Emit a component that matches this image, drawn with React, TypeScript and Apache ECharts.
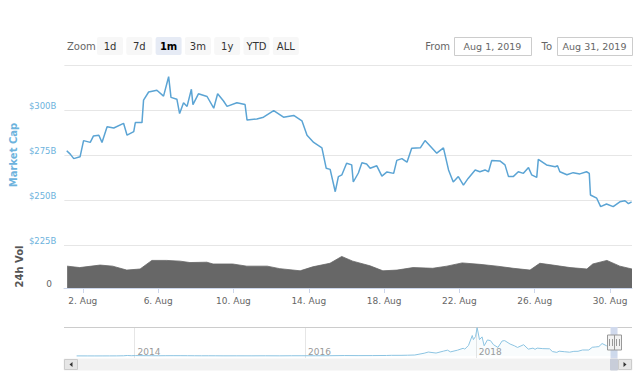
import React, { useEffect, useRef } from 'react';
import * as echarts from 'echarts';

// ---------- data ----------
const capTimes = [
  '2019-08-01 03:00', '2019-08-01 07:30', '2019-08-01 12:00', '2019-08-01 20:00', '2019-08-02 00:30',
  '2019-08-02 09:00', '2019-08-02 13:00', '2019-08-02 20:00', '2019-08-03 00:00', '2019-08-03 06:30',
  '2019-08-03 15:00', '2019-08-04 03:30', '2019-08-04 08:00', '2019-08-04 16:30', '2019-08-04 18:30',
  '2019-08-05 03:00', '2019-08-05 05:00', '2019-08-05 11:30', '2019-08-05 22:00', '2019-08-06 06:30',
  '2019-08-06 13:00', '2019-08-06 16:00', '2019-08-06 23:30', '2019-08-07 03:00', '2019-08-07 08:00',
  '2019-08-07 12:30', '2019-08-07 18:00', '2019-08-07 20:00', '2019-08-08 03:00', '2019-08-08 14:00',
  '2019-08-08 22:30', '2019-08-09 03:30', '2019-08-09 11:00', '2019-08-09 15:30', '2019-08-10 04:00',
  '2019-08-10 14:30', '2019-08-10 17:00', '2019-08-11 05:30', '2019-08-11 14:00', '2019-08-12 03:00',
  '2019-08-12 15:30', '2019-08-13 04:30', '2019-08-13 15:00', '2019-08-13 21:30', '2019-08-14 06:00',
  '2019-08-14 16:30', '2019-08-14 22:00', '2019-08-15 03:00', '2019-08-15 09:30', '2019-08-15 13:30',
  '2019-08-15 18:00', '2019-08-16 00:00', '2019-08-16 06:30', '2019-08-16 08:30', '2019-08-16 15:00',
  '2019-08-16 19:30', '2019-08-17 01:30', '2019-08-17 06:00', '2019-08-17 14:30', '2019-08-17 21:00',
  '2019-08-18 03:30', '2019-08-18 12:00', '2019-08-18 16:00', '2019-08-18 22:30', '2019-08-19 05:00',
  '2019-08-19 11:00', '2019-08-19 22:00', '2019-08-20 04:00', '2019-08-20 10:30', '2019-08-20 19:00',
  '2019-08-21 03:30', '2019-08-21 10:00', '2019-08-21 16:00', '2019-08-21 22:30', '2019-08-22 05:00',
  '2019-08-22 11:00', '2019-08-22 20:00', '2019-08-23 02:00', '2019-08-23 08:30', '2019-08-23 13:00',
  '2019-08-23 17:00', '2019-08-24 03:30', '2019-08-24 10:00', '2019-08-24 14:30', '2019-08-24 20:30',
  '2019-08-25 03:00', '2019-08-25 09:30', '2019-08-25 16:00', '2019-08-25 20:00', '2019-08-26 02:30',
  '2019-08-26 04:30', '2019-08-26 15:00', '2019-08-27 02:00', '2019-08-27 05:00', '2019-08-27 08:00',
  '2019-08-27 17:00', '2019-08-28 01:00', '2019-08-28 09:30', '2019-08-28 18:00', '2019-08-28 21:30',
  '2019-08-28 23:00', '2019-08-29 07:00', '2019-08-29 12:00', '2019-08-29 19:30', '2019-08-30 04:00',
  '2019-08-30 12:30', '2019-08-30 19:00', '2019-08-30 23:30', '2019-08-31 03:30',
];
const capValues = [
  277.4, 275.5, 273, 274, 283,
  282, 285.5, 286, 282, 290.7,
  290, 292.6, 286, 288, 293,
  293, 305.5, 310, 311, 307.7,
  318.5, 307, 306, 298, 304,
  302, 311.5, 303, 309, 307.5,
  301, 309, 305, 302, 304,
  303, 294.4, 295, 296, 299.6,
  296, 297, 294, 286, 282,
  279, 267.6, 267, 254.6, 263,
  264, 270.4, 269.5, 260, 265,
  270.7, 270, 267.6, 269, 263.3,
  265.6, 264.8, 272, 273, 271,
  278.7, 279, 283, 280, 276,
  279, 266.7, 260, 263, 258.3,
  262, 266.7, 265.7, 266.7, 265.7,
  271.9, 271.7, 269.5, 263, 263,
  265.7, 264.8, 268, 264, 262.6,
  272.6, 269.5, 268.5, 269, 265.7,
  264, 265.2, 264.5, 265.7, 264.8,
  252.8, 251, 246.3, 247.8, 246.3,
  249, 249.6, 248, 249,
];

const volTimes = [
  '2019-08-01 04:00', '2019-08-01 20:00', '2019-08-02 22:00', '2019-08-03 14:00', '2019-08-04 08:00',
  '2019-08-05 01:00', '2019-08-05 16:00', '2019-08-06 11:00', '2019-08-07 04:00', '2019-08-07 16:30',
  '2019-08-08 14:00', '2019-08-08 22:00', '2019-08-09 23:00', '2019-08-10 17:00', '2019-08-11 19:00',
  '2019-08-12 11:00', '2019-08-13 13:00', '2019-08-14 05:00', '2019-08-15 03:00', '2019-08-15 18:00',
  '2019-08-16 08:00', '2019-08-17 06:00', '2019-08-17 22:30', '2019-08-18 16:30', '2019-08-19 13:00',
  '2019-08-20 14:00', '2019-08-21 08:00', '2019-08-22 03:30', '2019-08-23 02:00', '2019-08-24 00:00',
  '2019-08-24 20:30', '2019-08-25 18:00', '2019-08-26 06:30', '2019-08-26 23:00', '2019-08-27 21:00',
  '2019-08-28 18:30', '2019-08-29 02:00', '2019-08-29 20:00', '2019-08-30 12:30', '2019-08-31 04:00',
];
const volValues = [
  61, 57, 64, 61, 50,
  53, 77, 77, 75, 71,
  72, 67, 67, 61, 61,
  54, 48, 59, 69, 88,
  75, 62, 48, 50, 57,
  55, 61, 70, 66, 61,
  55, 50, 69, 64, 57,
  53, 67, 77, 61, 53,
];

const navTimes = [
  '2013-04-28', '2013-06-15', '2013-07-15', '2013-08-15', '2013-09-15', '2013-10-15', '2013-11-15', '2013-12-01',
  '2013-12-18', '2014-01-05', '2014-02-15', '2014-03-15', '2014-04-15', '2014-05-15', '2014-06-15', '2014-07-15',
  '2014-08-15', '2014-09-15', '2014-10-15', '2014-11-15', '2014-12-15', '2015-01-15', '2015-03-15', '2015-05-15',
  '2015-07-15', '2015-09-15', '2015-11-05', '2015-12-15', '2016-02-15', '2016-04-15', '2016-06-17', '2016-08-15',
  '2016-10-15', '2016-12-15', '2017-01-05', '2017-02-15', '2017-03-15', '2017-04-15', '2017-05-25', '2017-06-12',
  '2017-07-15', '2017-08-15', '2017-09-02', '2017-09-15', '2017-10-15', '2017-11-08', '2017-11-15', '2017-12-01',
  '2017-12-17', '2017-12-22', '2017-12-31', '2018-01-07', '2018-01-17', '2018-01-28', '2018-02-06', '2018-02-20',
  '2018-03-05', '2018-03-18', '2018-04-06', '2018-04-24', '2018-05-05', '2018-05-28', '2018-06-15', '2018-06-29',
  '2018-07-25', '2018-08-14', '2018-09-03', '2018-09-12', '2018-09-21', '2018-10-15', '2018-11-13', '2018-11-25',
  '2018-12-14', '2018-12-24', '2019-01-15', '2019-02-07', '2019-02-25', '2019-03-15', '2019-04-03', '2019-04-30',
  '2019-05-15', '2019-05-30', '2019-06-12', '2019-06-26', '2019-07-15', '2019-07-30', '2019-08-06', '2019-08-15',
  '2019-08-31',
];
const navValues = [
  1.6, 1.3, 1.0, 1.3, 1.6, 2.2, 5.5, 13.5,
  7.5, 11, 8, 7, 6, 7.5, 8, 8,
  7, 6, 5, 5.5, 4.8, 3.3, 3.8, 3.6,
  4.8, 3.7, 6, 6.5, 6.5, 7.3, 12, 10,
  11, 14, 18, 18, 22, 28, 80, 115,
  85, 140, 170, 120, 170, 225, 200, 310,
  600, 480, 570, 830, 480, 560, 300, 470,
  450, 330, 250, 440, 450, 350, 300, 250,
  330, 200, 230, 195, 230, 215, 210, 130,
  105, 140, 125, 110, 135, 137, 175, 175,
  255, 265, 275, 365, 300, 290, 315, 265,
  248,
];

const capTicks = [225, 250, 275, 300, 325];
const dayTicks = [
  '2019-08-02', '2019-08-06', '2019-08-10', '2019-08-14',
  '2019-08-18', '2019-08-22', '2019-08-26', '2019-08-30',
];
const navYearTicks = ['2014-01-01', '2016-01-01', '2018-01-01'];
const rangeButtons = ['1d', '7d', '1m', '3m', '1y', 'YTD', 'ALL'];
const selectedButton = '1m';
const fromLabel = 'Aug 1, 2019';
const toLabel = 'Aug 31, 2019';
const selStart = '2019-08-01';
const selEnd = '2019-08-31';
const mainRange = ['2019-08-01 00:00', '2019-08-31 04:00'];
const navRange = ['2013-03-05', '2019-11-01'];

// ---------- helpers ----------
const FONT = '"DejaVu Sans", Verdana, sans-serif';
const ts = (s: string) => new Date((s.length <= 10 ? s + ' 00:00' : s).replace(' ', 'T')).getTime();

const GRID_L = 64;
const GRID_R = 8;
const NAV_TOP = 327;
const NAV_H = 31;
const SCROLL_TOP = 359;
const SCROLL_H = 11;

export default function App() {
  const ref = useRef<HTMLDivElement>(null);

  useEffect(() => {
    const chart = echarts.init(ref.current!, null, { renderer: 'svg' });
    const capData = capTimes.map((t, i) => [ts(t), capValues[i]]);
    const volData = volTimes.map((t, i) => [ts(t), volValues[i]]);
    const navData = navTimes.map((t, i) => [ts(t), navValues[i]]);
    const dayTickVals = dayTicks.map(ts);
    const yearTickVals = navYearTicks.map(ts);

    chart.setOption({
      animation: false,
      textStyle: { fontFamily: FONT },
      grid: [
        { left: GRID_L, right: GRID_R, top: 65, height: 180 },
        { left: GRID_L, right: GRID_R, top: 245, height: 43 },
        { left: GRID_L, right: GRID_R, top: NAV_TOP, height: NAV_H },
      ],
      xAxis: [
        {
          type: 'value', gridIndex: 0, min: ts(mainRange[0]), max: ts(mainRange[1]),
          axisLine: { show: false }, axisTick: { show: false }, axisLabel: { show: false }, splitLine: { show: false },
        },
        {
          type: 'value', gridIndex: 1, min: ts(mainRange[0]), max: ts(mainRange[1]),
          axisLine: { show: true, onZero: false, lineStyle: { color: '#ccd6eb' } },
          axisTick: { show: true, length: 5, lineStyle: { color: '#ccd6eb' }, customValues: dayTickVals },
          axisLabel: {
            customValues: dayTickVals, color: '#666', fontSize: 9, fontFamily: FONT, margin: 8,
            formatter: (v: number) => `${new Date(v).getDate()}. Aug`,
          },
          splitLine: { show: false },
        },
        {
          type: 'value', gridIndex: 2, min: ts(navRange[0]), max: ts(navRange[1]),
          axisLine: { show: false, onZero: false },
          axisTick: { show: false, customValues: yearTickVals },
          axisLabel: {
            customValues: yearTickVals, inside: true, margin: 2, align: 'left', padding: [0, 0, 0, 3],
            color: '#999', fontSize: 9, fontFamily: FONT,
            formatter: (v: number) => `${new Date(v).getFullYear()}`,
          },
          splitLine: { show: true, lineStyle: { color: '#e6e6e6', width: 1 } },
        },
      ],
      yAxis: [
        {
          type: 'value', gridIndex: 0, min: capTicks[0], max: capTicks[capTicks.length - 1], interval: 25,
          axisLine: { show: false }, axisTick: { show: false },
          axisLabel: {
            color: '#6db3dd', fontSize: 8.5, fontFamily: FONT, margin: 8, verticalAlign: 'bottom',
            formatter: (v: number) => (v === capTicks[capTicks.length - 1] ? '' : `$${v}B`),
          },
          splitLine: { lineStyle: { color: '#e6e6e6' } },
          name: 'Market Cap', nameLocation: 'middle', nameGap: 43, nameRotate: 90,
          nameTextStyle: { color: '#6db3dd', fontWeight: 'bold', fontSize: 10, fontFamily: FONT },
        },
        {
          type: 'value', gridIndex: 1, min: 0, max: 120, interval: 120,
          axisLine: { show: false }, axisTick: { show: false },
          axisLabel: {
            color: '#666', fontSize: 9, fontFamily: FONT, margin: 12, verticalAlign: 'bottom',
            formatter: (v: number) => (v === 0 ? '0' : ''),
          },
          splitLine: { lineStyle: { color: '#e6e6e6' } },
          name: '24h Vol', nameLocation: 'middle', nameGap: 40, nameRotate: 90,
          nameTextStyle: { color: '#555', fontWeight: 'bold', fontSize: 10, fontFamily: FONT },
        },
        { type: 'value', gridIndex: 2, min: -60, max: 850, show: false },
      ],
      series: [
        {
          type: 'line', xAxisIndex: 0, yAxisIndex: 0, data: capData, showSymbol: false,
          lineStyle: { color: '#5ba4d4', width: 1.5 }, z: 3,
        },
        {
          type: 'line', xAxisIndex: 1, yAxisIndex: 1, data: volData, showSymbol: false,
          lineStyle: { color: '#666', width: 0.8 }, areaStyle: { color: '#676767', opacity: 1 },
        },
        {
          type: 'line', xAxisIndex: 2, yAxisIndex: 2, data: navData, showSymbol: false,
          lineStyle: { color: '#8cc4e2', width: 1 }, areaStyle: { color: 'rgba(140,196,226,0.08)' },
          markArea: {
            silent: true,
            itemStyle: { color: 'rgba(102,133,194,0.3)' },
            data: [[{ xAxis: ts(selStart) }, { xAxis: ts(selEnd) }]],
          },
        },
      ],
    });

    // ----- UI decorations (range selector, navigator outline, scrollbar, handles) -----
    const W = 640;
    const plotRight = W - GRID_R;
    const x0 = chart.convertToPixel({ xAxisIndex: 2 }, ts(selStart)) as number;
    const x1 = chart.convertToPixel({ xAxisIndex: 2 }, ts(selEnd)) as number;

    const g: any[] = [];
    g.push({ type: 'text', x: 67, y: 46, style: { text: 'Zoom', fill: '#666', font: `10px ${FONT}`, verticalAlign: 'middle' } });
    rangeButtons.forEach((b, i) => {
      const cx = 110 + i * 29.3;
      const sel = b === selectedButton;
      g.push({ type: 'rect', shape: { x: cx - 13, y: 37, width: 26, height: 18, r: 2 }, style: { fill: sel ? '#e6ebf5' : '#f7f7f7' } });
      g.push({
        type: 'text', x: cx, y: 46,
        style: { text: b, fill: sel ? '#000' : '#333', font: `${sel ? 'bold ' : ''}10px ${FONT}`, align: 'center', verticalAlign: 'middle' },
      });
    });
    const inputs = [
      { label: 'From', labelX: 450, boxX: 454, w: 77, text: fromLabel },
      { label: 'To', labelX: 552, boxX: 557, w: 75, text: toLabel },
    ];
    inputs.forEach((inp) => {
      g.push({ type: 'text', x: inp.labelX, y: 46, style: { text: inp.label, fill: '#666', font: `10px ${FONT}`, align: 'right', verticalAlign: 'middle' } });
      g.push({ type: 'rect', shape: { x: inp.boxX + 0.5, y: 37.5, width: inp.w, height: 18 }, style: { fill: '#fff', stroke: '#ccc', lineWidth: 1 } });
      g.push({ type: 'text', x: inp.boxX + inp.w / 2, y: 46.5, style: { text: inp.text, fill: '#666', font: `9.5px ${FONT}`, align: 'center', verticalAlign: 'middle' } });
    });
    // navigator outline
    g.push({ type: 'line', shape: { x1: GRID_L, y1: NAV_TOP + 0.5, x2: x0, y2: NAV_TOP + 0.5 }, style: { stroke: '#ccc', lineWidth: 1 } });
    g.push({ type: 'line', shape: { x1: x1, y1: NAV_TOP + 0.5, x2: plotRight, y2: NAV_TOP + 0.5 }, style: { stroke: '#ccc', lineWidth: 1 } });
    // scrollbar
    g.push({ type: 'rect', shape: { x: GRID_L, y: SCROLL_TOP, width: plotRight - GRID_L, height: SCROLL_H }, style: { fill: '#f2f2f2', stroke: '#f2f2f2' } });
    g.push({ type: 'rect', shape: { x: x0, y: SCROLL_TOP, width: Math.max(x1 - x0, 6), height: SCROLL_H }, style: { fill: '#c8cdd9', stroke: '#c8cdd9' } });
    g.push({ type: 'rect', shape: { x: GRID_L + 0.5, y: SCROLL_TOP + 0.5, width: 13, height: SCROLL_H - 1 }, style: { fill: '#e6e6e6', stroke: '#ccc', lineWidth: 1 } });
    g.push({ type: 'polygon', shape: { points: [[GRID_L + 8.5, SCROLL_TOP + 3], [GRID_L + 8.5, SCROLL_TOP + 8], [GRID_L + 5.5, SCROLL_TOP + 5.5]] }, style: { fill: '#333' } });
    g.push({ type: 'rect', shape: { x: plotRight - 13.5, y: SCROLL_TOP + 0.5, width: 13, height: SCROLL_H - 1 }, style: { fill: '#e6e6e6', stroke: '#ccc', lineWidth: 1 } });
    g.push({ type: 'polygon', shape: { points: [[plotRight - 8.5, SCROLL_TOP + 3], [plotRight - 8.5, SCROLL_TOP + 8], [plotRight - 5.5, SCROLL_TOP + 5.5]] }, style: { fill: '#333' } });
    // handles
    const hy = NAV_TOP + NAV_H / 2 - 7.5;
    [x0, x1].forEach((hx) => {
      const cx = Math.round(hx);
      g.push({ type: 'rect', shape: { x: cx - 3.5, y: hy, width: 7, height: 15 }, style: { fill: '#f2f2f2', stroke: '#999', lineWidth: 1 }, z: 10 });
      g.push({ type: 'line', shape: { x1: cx - 1.5, y1: hy + 4, x2: cx - 1.5, y2: hy + 11 }, style: { stroke: '#999', lineWidth: 1 }, z: 11 });
      g.push({ type: 'line', shape: { x1: cx + 1.5, y1: hy + 4, x2: cx + 1.5, y2: hy + 11 }, style: { stroke: '#999', lineWidth: 1 }, z: 11 });
    });

    chart.setOption({ graphic: g });

    return () => chart.dispose();
  }, []);

  return <div ref={ref} style={{ position: 'absolute', left: 0, top: 0, width: 640, height: 380 }} />;
}
